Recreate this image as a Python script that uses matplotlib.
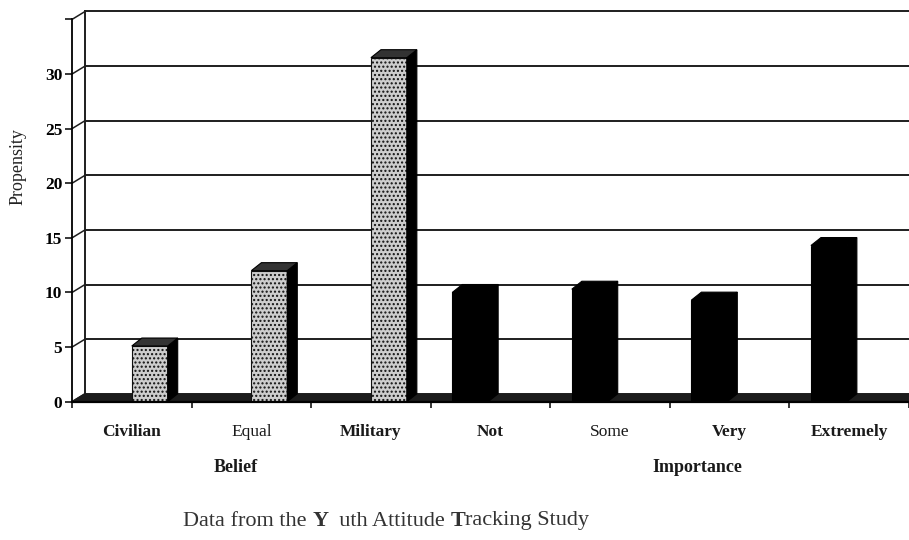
import numpy as np
import matplotlib
matplotlib.use("Agg")
import matplotlib.pyplot as plt
from matplotlib.patches import Polygon

# data
categories = ["Civilian", "Equal", "Military", "Not", "Some", "Very", "Extremely"]
label_bold = [True, False, True, True, False, True, True]
belief_vals = [5.1, 12.0, 31.5]           # Civilian, Equal, Military
importance_vals = [10.0, 10.3, 9.3, 14.3]  # Not, Some, Very, Extremely
groups = ["Belief", "Importance"]
yticks = [0, 5, 10, 15, 20, 25, 30, 35]
caption = [("Data from the ", "normal"), ("Y", "bold"), ("  uth Attitude ", "normal"),
           ("T", "bold"), ("racking Study", "normal")]

SERIF = ["Liberation Serif", "DejaVu Serif"]
plt.rcParams["font.family"] = SERIF
plt.rcParams["hatch.color"] = "#7a7a7a"

fig = plt.figure(figsize=(9.09, 5.40), dpi=100)
ax = fig.add_axes([72 / 909, 0.2561, 1 - 72 / 909, 0.7439])
ax.set_xlim(-0.5, len(categories) - 0.5)
ax.set_ylim(0, 36.78)

# depth of the back wall and of the bars (data units)
bdx, bdy = 0.109, 0.73
sdx, sdy = 0.084, 0.73

# back wall grid + connectors from the front axis
for v in yticks:
    if v > 0:
        ax.plot([-0.5 + bdx, len(categories) - 0.5], [v + bdy] * 2, color="#1e1e1e", lw=1.4, zorder=1)
    ax.plot([-0.5, -0.5 + bdx], [v, v + bdy], color="#1e1e1e", lw=1.1, zorder=1)
ax.plot([-0.5 + bdx] * 2, [bdy, 35 + bdy], color="#1e1e1e", lw=1.4, zorder=1)

# floor
x0, x1 = -0.5, len(categories) - 0.5
ax.add_patch(Polygon([(x0, 0), (x1, 0), (x1 + bdx, bdy), (x0 + bdx, bdy)],
                     closed=True, facecolor="#1c1c1c", edgecolor="#1c1c1c", zorder=2))

# bars
xb = np.arange(len(belief_vals))
xi = np.arange(len(belief_vals), len(categories))
bars_b = ax.bar(xb, belief_vals, width=0.30, align="edge", facecolor="#cdcdcd",
                edgecolor="#111111", lw=0.8, hatch="....", zorder=3)
bars_i = ax.bar(xi - 0.32, importance_vals, width=0.30, align="edge", facecolor="black",
                edgecolor="black", lw=0.8, zorder=3)


def add_depth(rect, side_col, top_col):
    x, w, h = rect.get_x(), rect.get_width(), rect.get_height()
    ax.add_patch(Polygon([(x + w, 0), (x + w + sdx, sdy), (x + w + sdx, h + sdy), (x + w, h)],
                         closed=True, facecolor=side_col, edgecolor="black", lw=0.8, zorder=3))
    ax.add_patch(Polygon([(x, h), (x + sdx, h + sdy), (x + w + sdx, h + sdy), (x + w, h)],
                         closed=True, facecolor=top_col, edgecolor="black", lw=0.8, zorder=3))


for b in bars_b:
    add_depth(b, "black", "#333333")
for b in bars_i:
    add_depth(b, "black", "black")

# axes styling
for s in ["top", "right"]:
    ax.spines[s].set_visible(False)
ax.spines["left"].set_bounds(0, 35)
ax.spines["left"].set_linewidth(1.3)
ax.spines["bottom"].set_linewidth(1.6)
ax.spines["bottom"].set_zorder(4)
ax.set_yticks(yticks)
ax.set_yticklabels([str(v) if v < 35 else "" for v in yticks],
                   fontsize=12.5, fontweight="bold")
ax.tick_params(axis="y", length=5, width=1.1, pad=2)
ax.set_xticks(np.arange(len(categories)))
ax.set_xticklabels([])
ax.tick_params(axis="x", which="major", length=0)
ax.set_xticks(np.arange(len(categories) + 1) - 0.5, minor=True)
ax.tick_params(axis="x", which="minor", length=4, width=1.1)
ax.set_facecolor("white")

for i, (c, bold) in enumerate(zip(categories, label_bold)):
    ax.annotate(c, (i, 0), xytext=(0, -22), textcoords="offset points", ha="center", va="center",
                fontsize=12.5, fontweight="bold" if bold else "normal", color="#1a1a1a",
                annotation_clip=False)

fig.text(236 / 909, 1 - 467 / 540, groups[0], ha="center", va="center",
         fontsize=13, fontweight="bold", color="#1a1a1a")
fig.text(697 / 909, 1 - 467 / 540, groups[1], ha="center", va="center",
         fontsize=13, fontweight="bold", color="#1a1a1a")

fig.text(18 / 909, 1 - 167 / 540, "Propensity", rotation=90, ha="center", va="center",
         fontsize=13, color="#222222")

# caption with mixed weights, laid out piece by piece
renderer = fig.canvas.get_renderer()
xpos = 183
for txt, wt in caption:
    t = fig.text(xpos / 909, 1 - 521 / 540, txt, ha="left", va="center", fontsize=16,
                 fontweight=wt, color="#333333")
    xpos += t.get_window_extent(renderer).width

fig.savefig("out.png", dpi=100)
